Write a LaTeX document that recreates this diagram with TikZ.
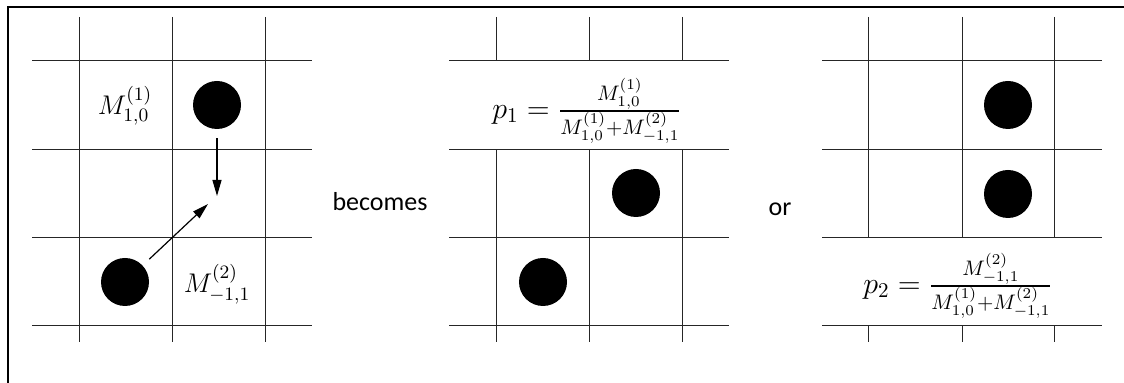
\RequirePackage{fix-cm}
\documentclass[tikz,border=0pt]{standalone}
\usepackage{amsmath}
\usepackage{fontspec}
\setmainfont{Carlito}
\usetikzlibrary{arrows.meta}

\begin{document}
\begin{tikzpicture}[
  x=0.5pt, y=-0.5pt,
  >={Triangle[length=8pt, width=4.5pt]},
  grid/.style  ={line width=0.5pt, black!85},
  dot/.style   ={circle, fill=black, minimum size=24pt, inner sep=0pt},
  lbl/.style   ={inner sep=0pt, font=\fontsize{13.5}{16}\selectfont},
  prob/.style  ={inner sep=0pt, font=\fontsize{15}{18}\selectfont},
  word/.style  ={inner sep=0pt, font=\fontsize{13}{15}\selectfont},
  arr/.style   ={->, line width=0.6pt},
]
\useasboundingbox (0,0) rectangle (1124,383);

% ---- frame ----
\draw[line width=1pt] (8,383) -- (8,7.5) -- (1124,7.5);

% ---- grid rows, the same in all three panels ----
\foreach \ox in {32,449,822}
  \foreach \ry in {61,150,238,326}
    \draw[grid] (\ox,\ry) -- ++(280,0);

% ---- grid columns ----
\foreach \cx in {79,172,265}
  \draw[grid] (\cx,17) -- (\cx,342);
\foreach \cx in {496,589,682} {
  \draw[grid] (\cx,17) -- (\cx,61);
  \draw[grid] (\cx,150) -- (\cx,342);
}
\foreach \cx in {868,962,1054} {
  \draw[grid] (\cx,17) -- (\cx,238);
  \draw[grid] (\cx,326) -- (\cx,342);
}

% ---- panel 1: two particles and their moves ----
\node[dot] (dot1a) at (217,105) {};
\node[dot] (dot1b) at (125,282) {};
\node[lbl] (m10) at (125,106) {$M^{(1)}_{1,0}$};
\node[lbl] (m11) at (217,284) {$M^{(2)}_{-1,1}$};

\coordinate (meet1) at (217,196);
\coordinate (meet2) at (208,204);
\draw[arr, shorten <=4.5pt] (dot1a) -- (meet1);
\draw[arr, shorten <=4.5pt] (dot1b) -- (meet2);

\node[word] (becomes) at (380,202) {becomes};

% ---- panel 2 ----
\node[dot] (dot2a) at (636,193) {};
\node[dot] (dot2b) at (543,282) {};
\node[prob] (pone) at (587,111)
  {$p_1=\frac{M^{(1)}_{1,0}}{M^{(1)}_{1,0}+M^{(2)}_{-1,1}}$};

\node[word] (or) at (780,209) {or};

% ---- panel 3 ----
\node[dot] (dot3a) at (1008,105) {};
\node[dot] (dot3b) at (1008,194) {};
\node[prob] (ptwo) at (958,286)
  {$p_2=\frac{M^{(2)}_{-1,1}}{M^{(1)}_{1,0}+M^{(2)}_{-1,1}}$};

\end{tikzpicture}
\end{document}
